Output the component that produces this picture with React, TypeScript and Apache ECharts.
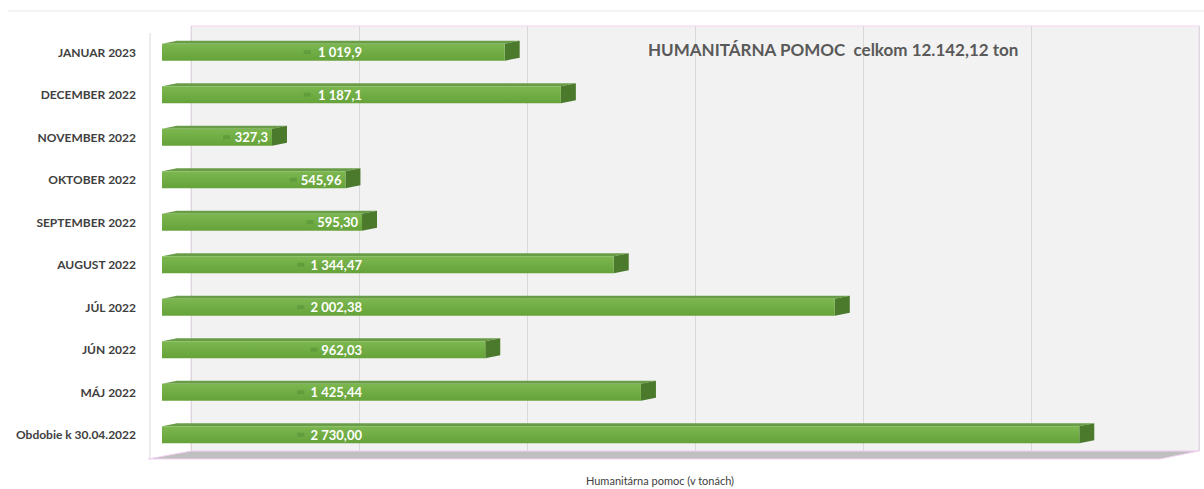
import React, { useEffect, useRef } from "react";
import * as echarts from "echarts";

const categories = [
  "JANUAR 2023",
  "DECEMBER 2022",
  "NOVEMBER 2022",
  "OKTOBER 2022",
  "SEPTEMBER 2022",
  "AUGUST 2022",
  "JÚL 2022",
  "JÚN 2022",
  "MÁJ 2022",
  "Obdobie k 30.04.2022",
];
const values = [1019.9, 1187.1, 327.3, 545.96, 595.3, 1344.47, 2002.38, 962.03, 1425.44, 2730.0];
const valueLabels = ["1 019,9", "1 187,1", "327,3", "545,96", "595,30", "1 344,47", "2 002,38", "962,03", "1 425,44", "2 730,00"];
const titleText = "HUMANITÁRNA POMOC  celkom 12.142,12 ton";
const axisTitle = "Humanitárna pomoc (v tonách)";
const axisMax = 3000;
const axisInterval = 500;

const FONT = "Lato, 'Open Sans', sans-serif";

export default function App() {
  const ref = useRef<HTMLDivElement>(null);
  useEffect(() => {
    if (!ref.current) return;
    document.body.style.margin = "0";
    const chart = echarts.init(ref.current, null, { renderer: "svg" });
    const data = values.map((v, i) => [v, i]);
    const option: any = {
      animation: false,
      backgroundColor: "#ffffff",
      grid: [
        { left: 162, right: 34, top: 31, bottom: 33, containLabel: false, outerBoundsMode: "none" },
        {
          left: 191, right: 5, top: 26, bottom: 38, show: true, outerBoundsMode: "none",
          backgroundColor: "#f2f2f2", borderColor: "#f3d3f3", borderWidth: 1, z: 0,
        },
      ],
      xAxis: [
        {
          type: "value", gridIndex: 0, min: 0, max: axisMax, interval: axisInterval,
          axisLabel: { show: false }, axisLine: { show: false }, axisTick: { show: false },
          splitLine: { show: false },
          name: axisTitle, nameLocation: "middle", nameGap: 19,
          nameTextStyle: { fontFamily: FONT, fontSize: 11, color: "#404040", padding: [0, 12, 0, 0] },
        },
        {
          type: "value", gridIndex: 1, min: 0, max: axisMax, interval: axisInterval,
          axisLabel: { show: false }, axisLine: { show: false }, axisTick: { show: false },
          splitLine: { show: true, lineStyle: { color: "#d9d9d9", width: 1 } },
        },
      ],
      yAxis: [
        {
          type: "category", gridIndex: 0, data: categories, inverse: true,
          axisLine: { show: false }, axisTick: { show: false },
          axisLabel: {
            margin: 26, fontFamily: FONT, fontSize: 12, fontWeight: "bold", color: "#404040",
            padding: [5, 0, 0, 0],
          },
        },
        {
          type: "category", gridIndex: 1, data: categories, inverse: true, show: false,
        },
      ],
      graphic: [
        { type: "line", shape: { x1: 8, y1: 11, x2: 1204, y2: 11 }, style: { stroke: "#e8e8e8", lineWidth: 1 }, z: -1 },
        { type: "line", shape: { x1: 150, y1: 33, x2: 150, y2: 459 }, style: { stroke: "#d9d9d9", lineWidth: 1 }, z: 1 },
        {
          type: "polygon",
          shape: { points: [[148, 459], [1160, 459], [1199, 451], [191, 451]] },
          style: { fill: "#bfbfbf", stroke: "#f3d3f3", lineWidth: 1 }, z: 1,
        },
        {
          type: "text", left: 648, top: 41,
          style: { text: titleText, fontFamily: FONT, fontSize: 17, fontWeight: "bold", fill: "#595959" }, z: 10,
        },
      ],
      series: [
        {
          type: "custom", xAxisIndex: 0, yAxisIndex: 0, data, z: 5,
          renderItem: (params: any, api: any) => {
            const v = api.value(0);
            const idx = api.value(1);
            const start = api.coord([0, idx]);
            const end = api.coord([v, idx]);
            const h = 17, dx = 15, dy = -3;
            const x0 = start[0], x1 = end[0];
            const top = start[1] - h / 2;
            const labelRight = Math.min(x1 - 4, 362);
            const txt = valueLabels[idx];
            const tw = txt.length * 6.6;
            return {
              type: "group",
              children: [
                {
                  type: "polygon",
                  shape: { points: [[x0, top], [x0 + dx, top + dy], [x1 + dx, top + dy], [x1, top]] },
                  style: { fill: "#699c46" },
                },
                {
                  type: "polygon",
                  shape: { points: [[x1, top], [x1 + dx, top + dy], [x1 + dx, top + dy + h], [x1, top + h]] },
                  style: { fill: "#4b7a2d" },
                },
                {
                  type: "rect",
                  shape: { x: x0, y: top, width: x1 - x0, height: h },
                  style: {
                    fill: new echarts.graphic.LinearGradient(0, 0, 0, 1, [
                      { offset: 0, color: "#7cb84f" },
                      { offset: 1, color: "#66a23a" },
                    ]),
                  },
                },
                {
                  type: "rect",
                  shape: { x: labelRight - tw - 12, y: top + h / 2 - 2, width: 7, height: 4 },
                  style: { fill: "#619d3c" },
                },
                {
                  type: "text",
                  x: labelRight, y: top + h / 2,
                  style: {
                    text: txt, fontFamily: FONT, fontSize: 13, fontWeight: "bold",
                    fill: "#ffffff", align: "right", verticalAlign: "middle",
                  },
                },
              ],
            };
          },
        },
      ],
    };
    chart.setOption(option);
    return () => chart.dispose();
  }, []);
  return <div ref={ref} style={{ width: 1204, height: 489 }} />;
}
